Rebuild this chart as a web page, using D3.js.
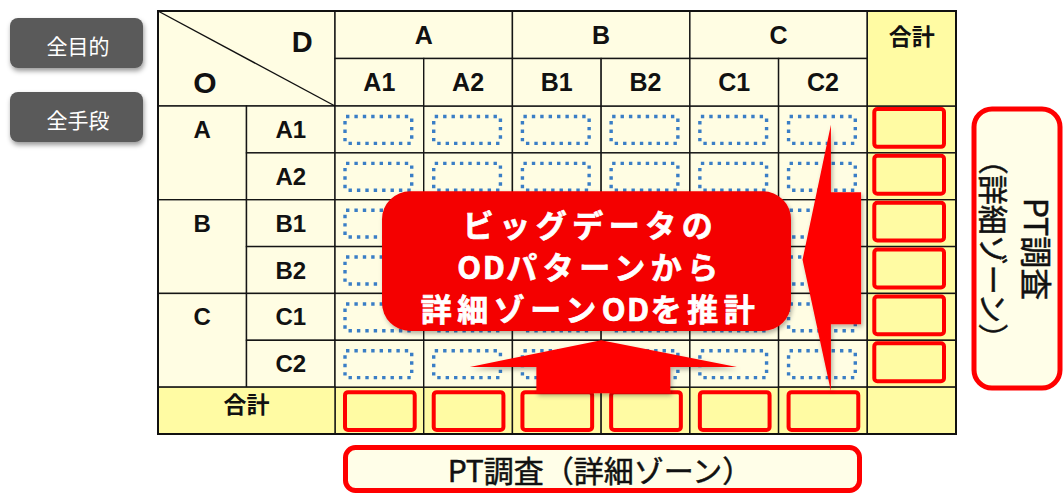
<!DOCTYPE html>
<html><head><meta charset="utf-8">
<script src="https://cdn.jsdelivr.net/npm/d3@7"></script>
<style>body{margin:0;background:#fff}svg{display:block}</style>
</head><body><svg id="c" width="1064" height="495"></svg>
<script>
const zones = ["A", "B", "C"];
const subzones = ["A1", "A2", "B1", "B2", "C1", "C2"];
const totalLabel = "合計";
const originLabel = "O";
const destLabel = "D";
const buttons = ["全目的", "全手段"];
const calloutLines = ["ビッグデータの", "ODパターンから", "詳細ゾーンODを推計"];
const surveyH = "PT調査（詳細ゾーン）";
const surveyV = ["PT調査", "（詳細ゾーン）"];

const CREAM = "#FFFDE3", YELLOW = "#FFFBA3", RED = "#FF0000", BLUE = "#3A7EC6";
const LATIN = "'Liberation Sans', Arial, sans-serif";
const CJK = "'Noto Sans CJK JP', 'Noto Sans', sans-serif";

const svg = d3.select("#c");
const defs = svg.append("defs");
const f1 = defs.append("filter").attr("id", "sh").attr("x", "-20%").attr("y", "-20%").attr("width", "140%").attr("height", "160%");
f1.append("feDropShadow").attr("dx", 1).attr("dy", 3).attr("stdDeviation", 2.5).attr("flood-color", "#000").attr("flood-opacity", 0.4);
const f2 = defs.append("filter").attr("id", "sh2").attr("x", "-20%").attr("y", "-20%").attr("width", "140%").attr("height", "140%");
f2.append("feDropShadow").attr("dx", 1.5).attr("dy", 2.5).attr("stdDeviation", 2).attr("flood-color", "#000").attr("flood-opacity", 0.3);

const cols = [...subzones, totalLabel];
const x = d3.scaleBand().domain(cols).range([335, 956]);
const y = d3.scaleBand().domain(cols).range([106, 434]);
const lx = d3.scaleBand().domain(["zone", "sub"]).range([158, 335]);
const hy = d3.scaleBand().domain(["zone", "sub"]).range([11, 106]);
const bw = x.bandwidth(), bh = y.bandwidth(), lw = lx.bandwidth(), hh = hy.bandwidth();

const grid = svg.append("g");
const cells = [];
cells.push({x: lx("zone"), y: hy("zone"), w: 2 * lw, h: 2 * hh, fill: CREAM});
zones.forEach(z => {
  cells.push({x: x(z + "1"), y: hy("zone"), w: 2 * bw, h: hh, fill: CREAM});
  cells.push({x: lx("zone"), y: y(z + "1"), w: lw, h: 2 * bh, fill: CREAM});
});
subzones.forEach(s => {
  cells.push({x: x(s), y: hy("sub"), w: bw, h: hh, fill: CREAM});
  cells.push({x: lx("sub"), y: y(s), w: lw, h: bh, fill: CREAM});
  subzones.forEach(c => cells.push({x: x(c), y: y(s), w: bw, h: bh, fill: CREAM}));
  cells.push({x: x(totalLabel), y: y(s), w: bw, h: bh, fill: YELLOW});
  cells.push({x: x(s), y: y(totalLabel), w: bw, h: bh, fill: YELLOW});
});
cells.push({x: x(totalLabel), y: hy("zone"), w: bw, h: 2 * hh, fill: YELLOW});
cells.push({x: lx("zone"), y: y(totalLabel), w: 2 * lw, h: bh, fill: YELLOW});
cells.push({x: x(totalLabel), y: y(totalLabel), w: bw, h: bh, fill: YELLOW});

grid.selectAll("rect.cell").data(cells).join("rect").attr("class", "cell")
  .attr("x", d => d.x).attr("y", d => d.y).attr("width", d => d.w).attr("height", d => d.h)
  .attr("fill", d => d.fill).attr("stroke", "#151515").attr("stroke-width", 1.4);
grid.append("rect").attr("x", lx("zone")).attr("y", hy("zone"))
  .attr("width", x.range()[1] - lx("zone")).attr("height", y.range()[1] - hy("zone"))
  .attr("fill", "none").attr("stroke", "#111").attr("stroke-width", 2);
grid.append("line").attr("x1", lx("zone")).attr("y1", hy("zone")).attr("x2", lx("sub") + lw).attr("y2", hy("sub") + hh)
  .attr("stroke", "#111").attr("stroke-width", 1.4);

// labels
const txt = svg.append("g").attr("font-weight", "bold").attr("fill", "#111");
function label(t, cx, cy, size, font) {
  txt.append("text").attr("x", cx).attr("y", cy).attr("text-anchor", "middle")
    .attr("dominant-baseline", "central").attr("font-family", font).attr("font-size", size).text(t);
}
label(destLabel, lx("sub") + lw * 0.63, hy("zone") + hh * 0.66, 29, LATIN);
label(originLabel, lx("zone") + lw * 0.53, hy("sub") + hh * 0.5, 30, LATIN);
zones.forEach(z => {
  label(z, x(z + "1") + bw, hy("zone") + hh * 0.5, 25, LATIN);
  label(z, lx("zone") + lw / 2, y(z + "1") + bh / 2, 24, LATIN);
});
subzones.forEach(s => {
  label(s, x(s) + bw / 2, hy("sub") + hh * 0.5, 25, LATIN);
  label(s, lx("sub") + lw / 2, y(s) + bh / 2, 24, LATIN);
});
label(totalLabel, x(totalLabel) + bw / 2, hy("zone") + hh * 0.5, 23, CJK);
label(totalLabel, lx("sub"), y(totalLabel) + bh * 0.34, 23, CJK);

// dotted cells
const pairs = [];
subzones.forEach(r => subzones.forEach(c => pairs.push({r, c})));
svg.append("g").selectAll("rect").data(pairs).join("rect")
  .attr("x", d => x(d.c) + 10).attr("y", d => y(d.r) + 10.5)
  .attr("width", bw - 22).attr("height", bh - 20).attr("rx", 1)
  .attr("fill", "none").attr("stroke", BLUE).attr("stroke-width", 3.4).attr("stroke-dasharray", "3.4 5");

// red total boxes
const rg = svg.append("g").attr("fill", YELLOW).attr("stroke", RED).attr("stroke-width", 4);
rg.selectAll("rect.tc").data(subzones).join("rect").attr("class", "tc")
  .attr("x", x(totalLabel) + 7).attr("y", d => y(d) + 3).attr("width", bw - 19).attr("height", bh - 9).attr("rx", 3);
rg.selectAll("rect.tr").data(subzones).join("rect").attr("class", "tr")
  .attr("x", d => x(d) + 10).attr("y", y(totalLabel) + 5).attr("width", bw - 19).attr("height", bh - 9).attr("rx", 3);

// arrows
const upArrow = [
  [x("B2"), y("C2")],
  [x("C1") + 0.53 * bw, y("C2") + 0.57 * bh],
  [x("B2") + 0.78 * bw, y("C2") + 0.57 * bh],
  [x("B2") + 0.78 * bw, y(totalLabel) + 0.13 * bh],
  [x("B1") + 0.27 * bw, y(totalLabel) + 0.13 * bh],
  [x("B1") + 0.27 * bw, y("C2") + 0.57 * bh],
  [x("A2") + 0.52 * bw, y("C2") + 0.57 * bh]
];
const leftArrow = [
  [x("C2") + 0.27 * bw, y("B2") + 0.28 * bh],
  [x("C2") + 0.59 * bw, y("A1") + 0.4 * bh],
  [x("C2") + 0.59 * bw, y("A2") + 0.84 * bh],
  [x("C2") + 0.93 * bw, y("A2") + 0.84 * bh],
  [x("C2") + 0.93 * bw, y("C1") + 0.66 * bh],
  [x("C2") + 0.59 * bw, y("C1") + 0.66 * bh],
  [x("C2") + 0.59 * bw, y(totalLabel) + 0.09 * bh]
];
const line = d3.line().curve(d3.curveLinearClosed);
svg.append("path").attr("d", line(upArrow)).attr("fill", RED).attr("filter", "url(#sh2)");
svg.append("path").attr("d", line(leftArrow)).attr("fill", RED).attr("filter", "url(#sh2)");

// callout
const cb = {x0: x("A1") + 0.53 * bw, x1: x("C1") + 1.14 * bw, y0: y("A2") + 0.82 * bh, y1: y("C1") + 0.8 * bh};
svg.append("rect").attr("x", cb.x0).attr("y", cb.y0).attr("width", cb.x1 - cb.x0).attr("height", cb.y1 - cb.y0)
  .attr("rx", 28).attr("fill", "#F40000").attr("filter", "url(#sh2)");
const lineY = d3.scalePoint().domain(calloutLines).range([222.5, 307]);
const ct = svg.append("g").selectAll("text").data(calloutLines).join("text")
  .attr("x", (cb.x0 + cb.x1) / 2 + 4).attr("y", d => lineY(d)).attr("text-anchor", "middle")
  .attr("dominant-baseline", "central").attr("fill", "#fff").attr("stroke", "#fff").attr("stroke-width", 0.7)
  .attr("font-family", CJK).attr("font-weight", "bold").attr("font-size", 31);
ct.selectAll("tspan").data(d => d.match(/[A-Z]+|[^A-Z]+/g)).join("tspan")
  .attr("letter-spacing", d => /[A-Z]/.test(d) ? 1.5 : 5.5).text(d => d);

// survey boxes
svg.append("rect").attr("x", 974).attr("y", 109).attr("width", 86).attr("height", 279).attr("rx", 18)
  .attr("fill", "#FFFEE8").attr("stroke", RED).attr("stroke-width", 5);
const vx = d3.scalePoint().domain(surveyV).range([1038, 995]);
svg.append("g").selectAll("text").data(surveyV).join("text")
  .attr("transform", d => `translate(${vx(d)},249) rotate(90)`).attr("text-anchor", "middle")
  .attr("dominant-baseline", "central").attr("font-family", CJK).attr("font-size", (d, i) => i ? 30 : 32)
  .attr("font-weight", 400).attr("stroke", "#111").attr("stroke-width", 0.5).attr("fill", "#111").text(d => d);
svg.append("rect").attr("x", 345.5).attr("y", 447.5).attr("width", 514).attr("height", 43).attr("rx", 10)
  .attr("fill", "#FFFEE8").attr("stroke", RED).attr("stroke-width", 5);
svg.append("text").attr("x", 600).attr("y", 469).attr("text-anchor", "middle").attr("dominant-baseline", "central")
  .attr("font-family", CJK).attr("font-size", 30).attr("font-weight", 400).attr("stroke", "#111").attr("stroke-width", 0.5)
  .attr("fill", "#111").text(surveyH);

// buttons
const by = d3.scalePoint().domain(buttons).range([18, 92]);
const bg = svg.append("g").selectAll("g").data(buttons).join("g").attr("transform", d => `translate(10,${by(d)})`);
bg.append("rect").attr("width", 133).attr("height", 50).attr("rx", 8).attr("fill", "#5A5A5A").attr("filter", "url(#sh)");
bg.append("text").attr("x", 68).attr("y", 27).attr("text-anchor", "middle").attr("dominant-baseline", "central")
  .attr("font-family", CJK).attr("font-size", 21).attr("fill", "#fff").text(d => d);
</script></body></html>
